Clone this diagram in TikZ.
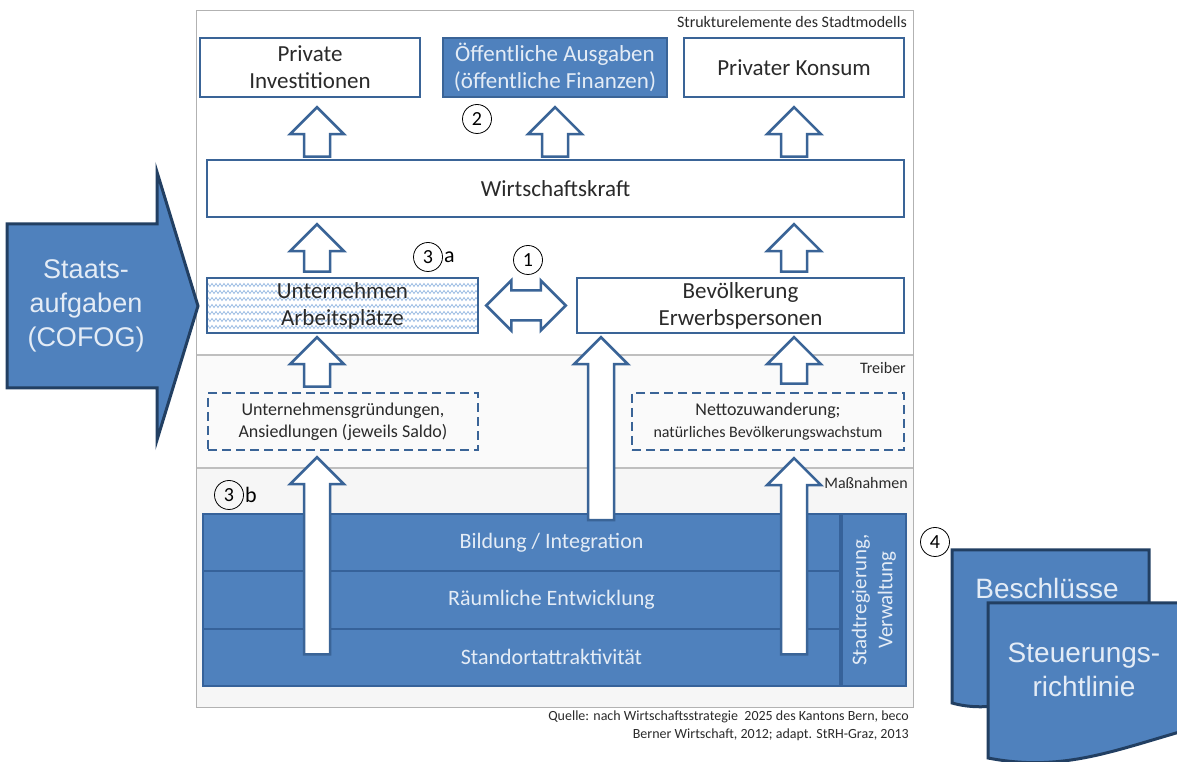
\documentclass[tikz,border=0pt]{standalone}
\usepackage{fontspec}
\setmainfont{Carlito}
\newfontfamily\arialfont{Liberation Sans}
\usetikzlibrary{calc,decorations.pathmorphing}

\definecolor{boxline}{HTML}{3A6497}
\definecolor{fillblue}{HTML}{4F81BD}
\definecolor{bandline}{HTML}{36629A}
\definecolor{docline}{HTML}{223F62}
\definecolor{lighttxt}{HTML}{E4ECF6}
\definecolor{darktxt}{HTML}{2A2A2A}
\definecolor{hatchblue}{HTML}{9BBCE3}

\tikzset{
  box/.style={draw=boxline, line width=2.5pt, fill=white, text=darktxt, align=center,
    inner sep=0pt, font=\fontsize{23}{27}\selectfont},
  bluebox/.style={box, fill=fillblue, text=lighttxt},
  dashbox/.style={box, fill=none, dash pattern=on 9pt off 5pt, font=\fontsize{18}{22}\selectfont},
  band/.style={draw=bandline, line width=2pt, fill=fillblue, text=lighttxt, align=center,
    inner sep=0pt, font=\fontsize{22}{26}\selectfont},
  hollow/.style={draw=boxline, line width=2.5pt, fill=white, line join=miter},
  hatch/.style={hatchblue, line width=0.8pt, decorate,
    decoration={zigzag, segment length=4pt, amplitude=1.5pt}},
  num/.style={circle, draw=black, line width=0.8pt, minimum size=29pt, inner sep=0pt,
    font=\fontsize{20}{20}\selectfont},
  small/.style={inner sep=0pt, text=darktxt, font=\fontsize{16}{19}\selectfont},
  doc/.style={draw=docline, line width=3pt, fill=fillblue, line join=miter},
  doctxt/.style={text=lighttxt, align=center, inner sep=0pt, font=\arialfont\fontsize{28}{34}\selectfont}
}

% Blockpfeil nach oben: x, Fussknoten, Abstand unten, Spitzenknoten, Abstand oben
\newcommand\blockup[5]{%
  \draw[hollow] let \p1=(#2), \p2=(#4) in
    (#1-13,\y1+#3) -- (#1-13,\y2-#5-27) -- (#1-27,\y2-#5-27) -- (#1,\y2-#5)
    -- (#1+27,\y2-#5-27) -- (#1+13,\y2-#5-27) -- (#1+13,\y1+#3) -- cycle;}

\begin{document}
\begin{tikzpicture}[x=1pt,y=1pt]
\useasboundingbox (0,0) rectangle (1177,762);

% Rahmen und Bereiche
\fill[white] (196,407) rectangle (913,751);
\fill[gray!4] (196,294) rectangle (913,407);
\fill[gray!7] (196,54) rectangle (913,294);
\draw[gray!50, line width=1.5pt] (196,407) -- (913,407) (196,294) -- (913,294);
\draw[gray!60, line width=1pt] (196,54) rectangle (913,751);

\node[small, anchor=east] (lstrukt) at (907,740) {Strukturelemente des Stadtmodells};
\node[small, anchor=east] (ltreib) at (906,394) {Treiber};
\node[small, anchor=east] (lmass) at (908,279) {Maßnahmen};

% Strukturelemente
\node[box, minimum width=220pt, minimum height=59pt] (pi) at (310,694.5) {Private\\Investitionen};
\node[bluebox, minimum width=224pt, minimum height=59pt] (oa) at (555,694.5) {Öffentliche Ausgaben\\(öffentliche Finanzen)};
\node[box, minimum width=220pt, minimum height=59pt] (pk) at (794,694.5) {Privater Konsum};
\node[box, minimum width=697pt, minimum height=57pt] (wk) at (555.5,573.5) {Wirtschaftskraft};
\node[box, minimum width=271pt, minimum height=55pt,
  path picture={\foreach \k in {1,...,7}
    \draw[hatch] ([yshift=\k*7pt-1pt]path picture bounding box.south west)
      -- ([yshift=\k*7pt-1pt]path picture bounding box.south east);}]
  (un) at (342.5,456.5) {Unternehmen\\Arbeitsplätze};
\node[box, minimum width=327pt, minimum height=55pt] (bev) at (740.5,456.5) {Bevölkerung\\Erwerbspersonen};

% Treiber
\node[dashbox, minimum width=270pt, minimum height=57pt] (ug) at (343,340.5) {Unternehmensgründungen,\\Ansiedlungen (jeweils Saldo)};
\node[dashbox, minimum width=272pt, minimum height=57pt] (nz) at (768,340.5)
  {Nettozuwanderung;\\{\fontsize{16}{20}\selectfont natürliches Bevölkerungswachstum}};

% Massnahmen
\node[band, minimum width=637pt, minimum height=57.3pt] (bil) at (521.5,219.3) {\hspace*{60pt}Bildung / Integration};
\node[band, minimum width=637pt, minimum height=57.3pt] (rae) at (521.5,162) {\hspace*{60pt}Räumliche Entwicklung};
\node[band, minimum width=637pt, minimum height=57.3pt] (sta) at (521.5,104.7) {\hspace*{60pt}Standortattraktivität};
\node[band, rotate=90, minimum width=172pt, minimum height=64pt,
  font=\fontsize{21}{26}\selectfont] (stv) at (874,162) {Stadtregierung,\\Verwaltung};

% Blockpfeile
\blockup{317}{wk.north}{2}{pi.south}{9}
\blockup{555}{wk.north}{2}{oa.south}{9}
\blockup{794}{wk.north}{2}{pk.south}{9}
\blockup{317}{un.north}{5}{wk.south}{6}
\blockup{794}{bev.north}{5}{wk.south}{6}
\blockup{317}{ug.north}{5}{un.south}{3}
\blockup{794}{nz.north}{8}{bev.south}{3}
\blockup{601}{bil.north}{-7}{bev.south}{3}
\blockup{317}{sta.center}{3}{ug.south}{6}
\blockup{794}{sta.center}{3}{nz.south}{7}

\draw[hollow] let \p1=(un.east), \p2=(bev.west) in
  (\x1+7,\y1) -- (\x1+32,\y1+25) -- (\x1+32,\y1+15) -- (\x2-35,\y1+15)
  -- (\x2-35,\y1+25) -- (\x2-10,\y1) -- (\x2-35,\y1-25) -- (\x2-35,\y1-15)
  -- (\x1+32,\y1-15) -- (\x1+32,\y1-25) -- cycle;

% Nummern
\node[num] (n2) at (477,643) {2};
\node[num] (n3a) at (428,505) {3};
\node[anchor=west, inner sep=1pt, font=\fontsize{22}{22}\selectfont] (n3alab) at (n3a.east) {a};
\node[num] (n1) at (528,502) {1};
\node[num] (n3b) at (229,267) {3};
\node[anchor=west, inner sep=1pt, font=\fontsize{22}{22}\selectfont] (n3blab) at (n3b.east) {b};
\node[num] (n4) at (935,220) {4};

% Staatsaufgaben
\draw[doc] (7,538) -- (157,538) -- (157,590) -- (198,456) -- (157,322) -- (157,374) -- (7,374) -- cycle;
\node[doctxt, font=\arialfont\fontsize{27}{34}\selectfont] (sa) at (86,456) {Staats-\\aufgaben\\(COFOG)};

% Dokumente
\draw[doc] (952,59) -- (952,212) -- (1149,212) -- (1149,80) .. controls (1085,100) and (1020,40) .. (952,59) -- cycle;
\node[doctxt] (bes) at (1047,174) {Beschlüsse};
\draw[doc] (988,4) -- (988,159) -- (1183,159) -- (1183,31) .. controls (1110,10) and (1060,-10) .. (988,4) -- cycle;
\node[doctxt] (ste) at (1084,92) {Steuerungs-\\richtlinie};

% Quelle
\node[small, anchor=north east, align=right, font=\fontsize{14}{18}\selectfont] (quelle) at (909,51)
  {Quelle: nach Wirtschaftsstrategie\ \ 2025 des Kantons Bern, beco\\Berner Wirtschaft, 2012; adapt. StRH-Graz, 2013};
\end{tikzpicture}
\end{document}
